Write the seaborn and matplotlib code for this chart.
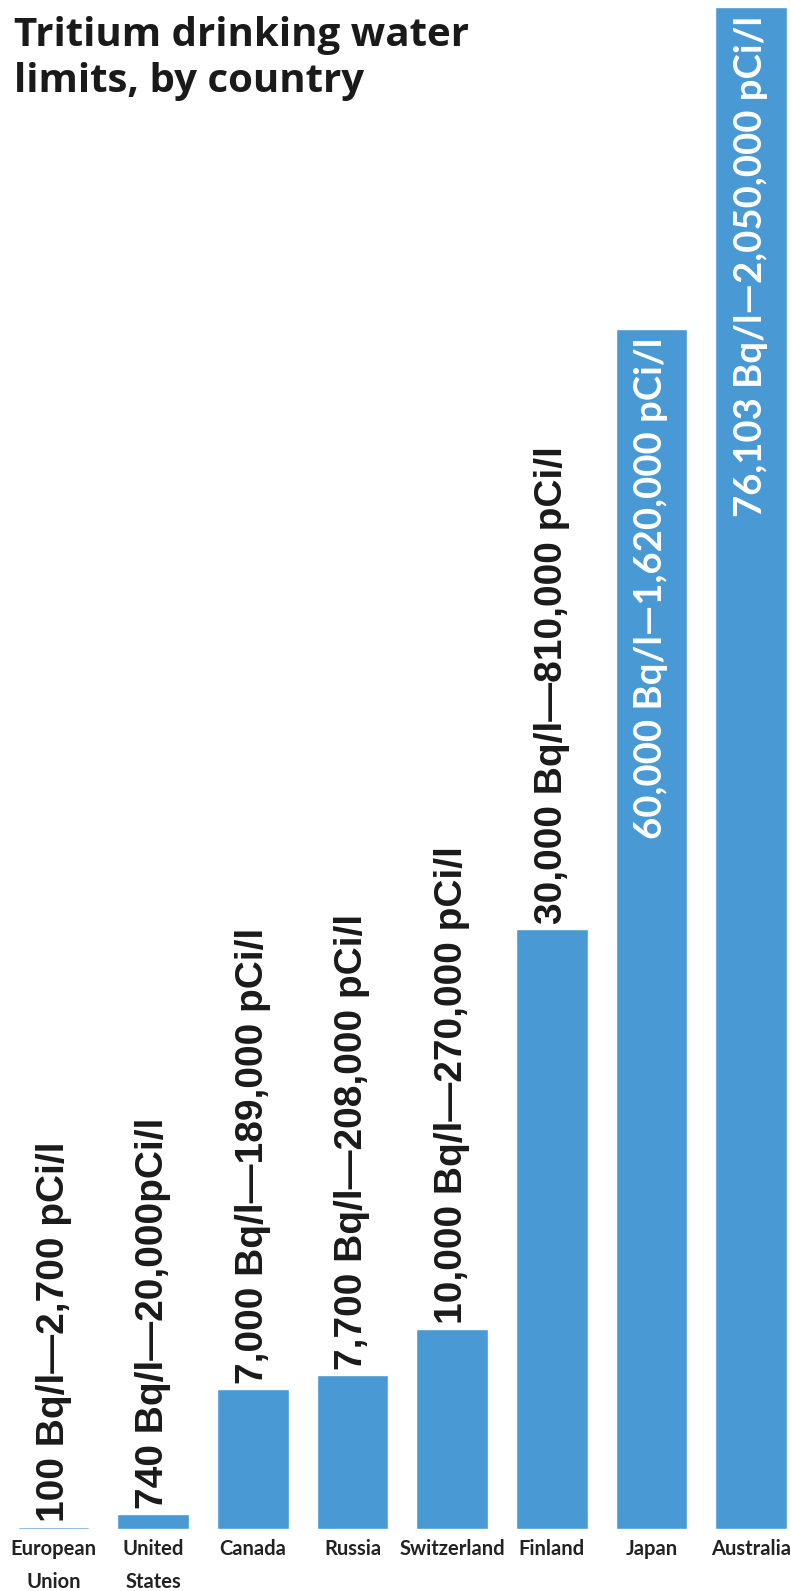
import matplotlib
matplotlib.use("Agg")
import matplotlib.pyplot as plt
import seaborn as sns
import pandas as pd

countries = ["European\nUnion", "United\nStates", "Canada", "Russia",
             "Switzerland", "Finland", "Japan", "Australia"]
bq_per_l = [100, 740, 7000, 7700, 10000, 30000, 60000, 76103]
value_labels = ["100 Bq/l\u20142,700 pCi/l",
                "740 Bq/l\u201420,000pCi/l",
                "7,000 Bq/l\u2014189,000 pCi/l",
                "7,700 Bq/l\u2014208,000 pCi/l",
                "10,000 Bq/l\u2014270,000 pCi/l",
                "30,000 Bq/l\u2014810,000 pCi/l",
                "60,000 Bq/l\u20141,620,000 pCi/l",
                "76,103 Bq/l\u20142,050,000 pCi/l"]
inside = [False, False, False, False, False, False, True, True]

sns.set_theme(style="white")
plt.rcParams['font.family'] = ['Liberation Sans', 'DejaVu Sans']

W, H = 791, 1591
fig = plt.figure(figsize=(W / 100, H / 100), dpi=100)
# axes: baseline at y=1529 px from top, top at 7 px
ax = fig.add_axes([0, (H - 1529) / H, 1, (1529 - 7) / H])

df = pd.DataFrame({"country": countries, "bq": bq_per_l})
sns.barplot(data=df, x="country", y="bq", color="#4899d4", saturation=1,
            width=0.72, ax=ax)

ax.set_xlim(-0.537, 7.40)
ax.set_ylim(0, 76103)
ax.set_xlabel("")
ax.set_ylabel("")
ax.set_yticks([])
for s in ax.spines.values():
    s.set_visible(False)

ax.tick_params(axis="x", length=0, pad=7)
for t in ax.get_xticklabels():
    t.set_family(['Lato', 'DejaVu Sans'])
    t.set_fontweight("bold")
    t.set_fontsize(14.5)
    t.set_color("#222222")
    t.set_linespacing(1.8)

px = 76103 / (1529 - 7)
for i, (v, lab, ins) in enumerate(zip(bq_per_l, value_labels, inside)):
    if ins:
        ax.text(i, v - 9 * px, lab, rotation=90, ha="center", va="top",
                color="white", fontsize=27.5, fontweight="bold",
                family=['Lato', 'DejaVu Sans'], clip_on=False)
    else:
        ax.text(i, v + 5 * px, lab, rotation=90, ha="center", va="bottom",
                color="#1a1a1a", fontsize=28, fontweight="bold",
                family=['Liberation Sans', 'DejaVu Sans'], clip_on=False)

fig.text(14 / W, 1 - 16 / H, "Tritium drinking water\nlimits, by country",
         ha="left", va="top", fontsize=29, fontweight="bold",
         family=['Open Sans', 'DejaVu Sans'], color="#1a1a1a", linespacing=1.24)

fig.savefig("out.png", dpi=100)
